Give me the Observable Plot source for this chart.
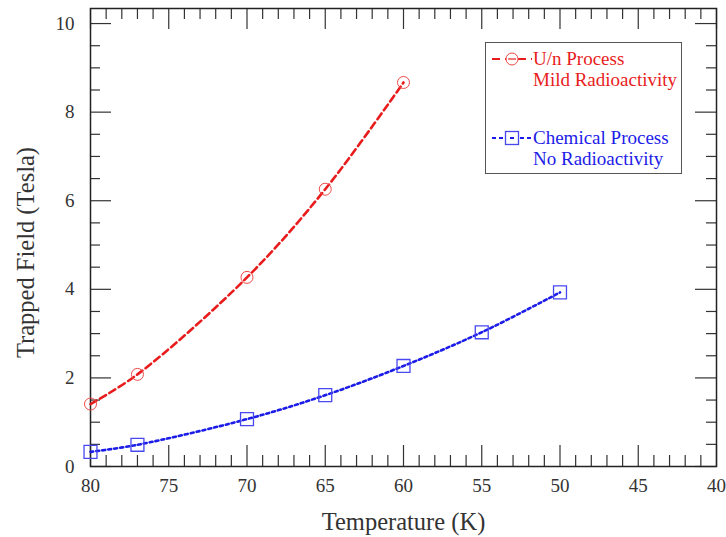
<!DOCTYPE html>
<html>
<head>
<meta charset="utf-8">
<script src="https://cdn.jsdelivr.net/npm/d3@7"></script>
<script src="https://cdn.jsdelivr.net/npm/@observablehq/plot@0.6"></script>
<style>
  html, body { margin: 0; padding: 0; background: #fff; }
  #wrap { position: relative; width: 726px; height: 537px; font-family: 'Liberation Serif'; }
  #legend { position: absolute; left: 485px; top: 42px; width: 195px; height: 130px; border: 1px solid #555; background: #fff; }
  #legend svg { position: absolute; left: 0; top: 0; }
</style>
</head>
<body>
<div id="wrap"></div>
<script>
// ---- data ----
const tempsUn = [80, 77, 70, 65, 60];
const fieldUn = [1.41, 2.08, 4.27, 6.26, 8.67];
const tempsChem = [80, 77, 70, 65, 60, 55, 50];
const fieldChem = [0.33, 0.49, 1.07, 1.61, 2.27, 3.03, 3.93];
const seriesNames = ["U/n Process", "Mild Radioactivity", "Chemical Process", "No Radioactivity"];
const xMajor = [80, 75, 70, 65, 60, 55, 50, 45, 40];
const xMinor = d3.range(41, 80).filter(v => v % 5 !== 0);
const yMajor = [0, 2, 4, 6, 8, 10];
const yMinor = d3.range(0.5, 10.5, 0.5).filter(v => v % 2 !== 0);

const un = tempsUn.map((t, i) => ({t, f: fieldUn[i]}));
const chem = tempsChem.map((t, i) => ({t, f: fieldChem[i]}));

const W = 726, H = 537;
const mL = 90, mR = 10, mT = 8, mB = 71;
const pw = W - mL - mR, ph = H - mT - mB;
const red = "#e81c1c", blue = "#1c1ce8", axisCol = "#333";
const FONT = "Liberation Serif";

const chart = Plot.plot({
  width: W, height: H,
  marginLeft: mL, marginRight: mR, marginTop: mT, marginBottom: mB,
  style: {fontFamily: FONT, background: "#fff", color: axisCol},
  x: {domain: [80, 40], axis: null},
  y: {domain: [0, 10.34], axis: null},
  marks: [
    // inward ticks on all four sides
    Plot.ruleX(xMajor, {x: d => d, insetTop: ph - 21, stroke: axisCol, strokeWidth: 1.2}),
    Plot.ruleX(xMajor, {x: d => d, insetBottom: ph - 21, stroke: axisCol, strokeWidth: 1.2}),
    Plot.ruleX(xMinor, {x: d => d, insetTop: ph - 11, stroke: axisCol, strokeWidth: 1.2}),
    Plot.ruleX(xMinor, {x: d => d, insetBottom: ph - 11, stroke: axisCol, strokeWidth: 1.2}),
    Plot.ruleY(yMajor, {y: d => d, insetRight: pw - 21, stroke: axisCol, strokeWidth: 1.2}),
    Plot.ruleY(yMajor, {y: d => d, insetLeft: pw - 21, stroke: axisCol, strokeWidth: 1.2}),
    Plot.ruleY(yMinor, {y: d => d, insetRight: pw - 10, stroke: axisCol, strokeWidth: 1.2}),
    Plot.ruleY(yMinor, {y: d => d, insetLeft: pw - 10, stroke: axisCol, strokeWidth: 1.2}),
    Plot.frame({stroke: "#222", strokeWidth: 1.5}),
    // tick labels
    Plot.axisX(xMajor, {tickSize: 0, tickPadding: 12, fontSize: 19, label: null, color: axisCol, fontFamily: FONT}),
    Plot.axisY(yMajor, {tickSize: 0, tickPadding: 16, fontSize: 19, label: null, color: axisCol, fontFamily: FONT}),
    // axis titles
    Plot.text(["Temperature (K)"], {frameAnchor: "bottom", textAnchor: "middle", lineAnchor: "middle", dy: 56, fontSize: 24.5, fill: axisCol, text: d => d, fontFamily: FONT}),
    Plot.text(["Trapped Field (Tesla)"], {frameAnchor: "left", textAnchor: "middle", lineAnchor: "middle", dx: -64, dy: 15, rotate: -90, fontSize: 24.5, fill: axisCol, text: d => d, fontFamily: FONT}),
    // series
    Plot.line(un, {x: "t", y: "f", curve: "catmull-rom", stroke: red, strokeWidth: 2.6, strokeDasharray: "7,4"}),
    Plot.dot(un, {x: "t", y: "f", r: 6, stroke: "#f04848", fill: "none", strokeWidth: 1}),
    Plot.line(chem, {x: "t", y: "f", curve: "catmull-rom", stroke: blue, strokeWidth: 2.6, strokeDasharray: "3,3"}),
    Plot.dot(chem, {x: "t", y: "f", r: 7.3, symbol: "square", stroke: "#4848f0", fill: "none", strokeWidth: 1.3})
  ]
});

const wrap = document.getElementById("wrap");
wrap.appendChild(chart);
chart.querySelectorAll("text").forEach(t => { t.setAttribute("font-family", FONT); t.style.fontFamily = FONT; });

// legend box inside the frame
const leg = document.createElement("div");
leg.id = "legend";
wrap.appendChild(leg);
const svg = d3.select(leg).append("svg").attr("width", 195).attr("height", 130)
  .attr("font-family", FONT).attr("font-size", 19);
const entries = [
  {y: 16, color: red, dash: "8,5", sym: "circle", names: [seriesNames[0], seriesNames[1]]},
  {y: 95, color: blue, dash: "4,3", sym: "square", names: [seriesNames[2], seriesNames[3]]}
];
for (const e of entries) {
  svg.append("line").attr("x1", 6).attr("x2", 46).attr("y1", e.y).attr("y2", e.y)
    .attr("stroke", e.color).attr("stroke-width", 2).attr("stroke-dasharray", e.dash);
  if (e.sym === "circle") {
    svg.append("circle").attr("cx", 26).attr("cy", e.y).attr("r", 6)
      .attr("fill", "#fff").attr("stroke", "#f04848").attr("stroke-width", 1);
    svg.append("line").attr("x1", 22).attr("x2", 30).attr("y1", e.y).attr("y2", e.y)
      .attr("stroke", e.color).attr("stroke-width", 1.2);
  } else {
    svg.append("rect").attr("x", 26 - 6.5).attr("y", e.y - 6.5).attr("width", 13).attr("height", 13)
      .attr("fill", "#fff").attr("stroke", "#4848f0").attr("stroke-width", 1.3);
    svg.append("line").attr("x1", 24).attr("x2", 28).attr("y1", e.y).attr("y2", e.y)
      .attr("stroke", e.color).attr("stroke-width", 2);
  }
  svg.append("text").attr("x", 47).attr("y", e.y + 6).attr("fill", e.color).text(e.names[0]);
  svg.append("text").attr("x", 47).attr("y", e.y + 27).attr("fill", e.color).text(e.names[1]);
}
</script>
</body>
</html>
